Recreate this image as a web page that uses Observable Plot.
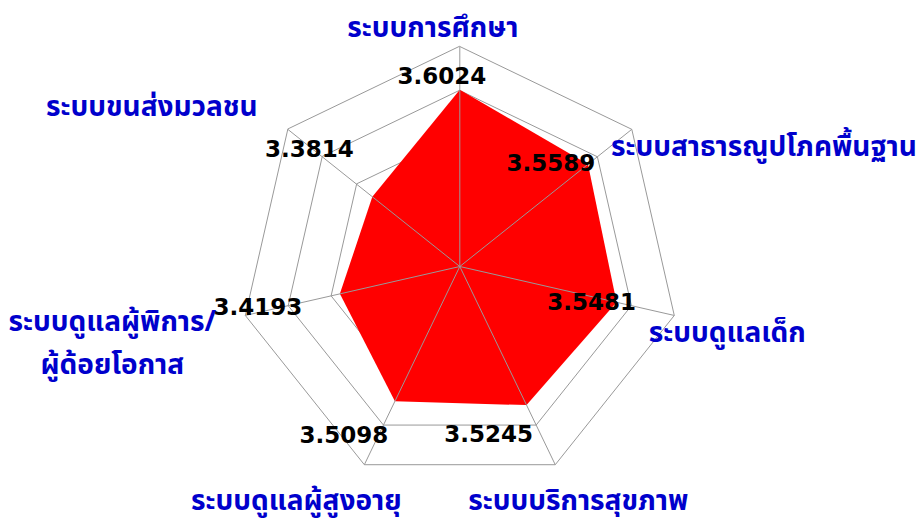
<!DOCTYPE html>
<html>
<head>
<meta charset="utf-8">
<script src="https://cdn.jsdelivr.net/npm/d3@7"></script>
<script src="https://cdn.jsdelivr.net/npm/@observablehq/plot@0.6"></script>
<style>
  html, body { margin: 0; padding: 0; background: #fff; }
  #chart svg { display: block; overflow: visible; }
</style>
</head>
<body>
<div id="chart"></div>
<script>
// ---- data ----
const categories = [
  "ระบบการศึกษา",
  "ระบบสาธารณูปโภคพื้นฐาน",
  "ระบบดูแลเด็ก",
  "ระบบบริการสุขภาพ",
  "ระบบดูแลผู้สูงอายุ",
  "ระบบดูแลผู้พิการ/\nผู้ด้อยโอกาส",
  "ระบบขนส่งมวลชน"
];
const values = [3.6024, 3.5589, 3.5481, 3.5245, 3.5098, 3.4193, 3.3814];
const valueLabels = ["3.6024", "3.5589", "3.5481", "3.5245", "3.5098", "3.4193", "3.3814"];
const ringValues = [3.15, 3.30, 3.45, 3.60, 3.75];
const radialDomain = [3.0, 3.75];

// ---- layout (pixel offsets for labels) ----
const catOffsets = [[-27, -23], [132, 13], [53, 13], [23, 31], [-68, 31], [-133, 23], [-136, -27]];
const valOffsets = [[-18, -13], [-37, -1], [-25, 0], [-38, 30], [-51, 34], [-82, 14], [-63, -47]];

const W = 921, H = 523, cx = 459.3, cy = 266, R = 220;
const r = d3.scaleLinear(radialDomain, [0, R]);
const n = categories.length;
const ang = i => i * 2 * Math.PI / n;
const px = (i, v) => r(v) * Math.sin(ang(i));
const py = (i, v) => r(v) * Math.cos(ang(i));

const poly = values.map((v, i) => ({i, x: px(i, v), y: py(i, v)}));
const rings = ringValues.flatMap(rv => categories.map((c, i) => ({ring: rv, x: px(i, rv), y: py(i, rv)})));
const spokes = categories.map((c, i) => ({x: px(i, radialDomain[1]), y: py(i, radialDomain[1])}));
const valRows = values.map((v, i) => ({
  label: valueLabels[i],
  x: px(i, v) + valOffsets[i][0],
  y: py(i, v) - valOffsets[i][1]
}));
const catRows = categories.map((c, i) => ({
  label: c,
  x: px(i, radialDomain[1]) + catOffsets[i][0],
  y: py(i, radialDomain[1]) - catOffsets[i][1]
}));

const chart = Plot.plot({
  width: W,
  height: H,
  margin: 0,
  style: {background: "#fff", overflow: "visible"},
  x: {domain: [-cx, W - cx], range: [0, W], axis: null},
  y: {domain: [-(H - cy), cy], range: [H, 0], axis: null},
  marks: [
    Plot.line(rings, {x: "x", y: "y", z: "ring", curve: "linear-closed", stroke: "#999", strokeWidth: 1}),
    Plot.line(poly, {x: "x", y: "y", curve: "linear-closed", fill: "#ff0000", stroke: "none"}),
    Plot.link(spokes, {x1: 0, y1: 0, x2: "x", y2: "y", stroke: "#999", strokeWidth: 1}),
    Plot.text(valRows, {x: "x", y: "y", text: "label", fill: "#000", fontSize: 23, fontWeight: "bold",
      fontFamily: "DejaVu Sans", textAnchor: "middle", lineAnchor: "middle"}),
    Plot.text(catRows, {x: "x", y: "y", text: "label", fill: "#0000cc", fontSize: 28, fontWeight: "bold",
      fontFamily: "Tahoma, 'Noto Sans Thai', 'Noto Sans', 'DejaVu Sans', sans-serif",
      textAnchor: "middle", lineAnchor: "middle", lineHeight: 1.55})
  ]
});
document.getElementById("chart").appendChild(chart);
</script>
</body>
</html>
